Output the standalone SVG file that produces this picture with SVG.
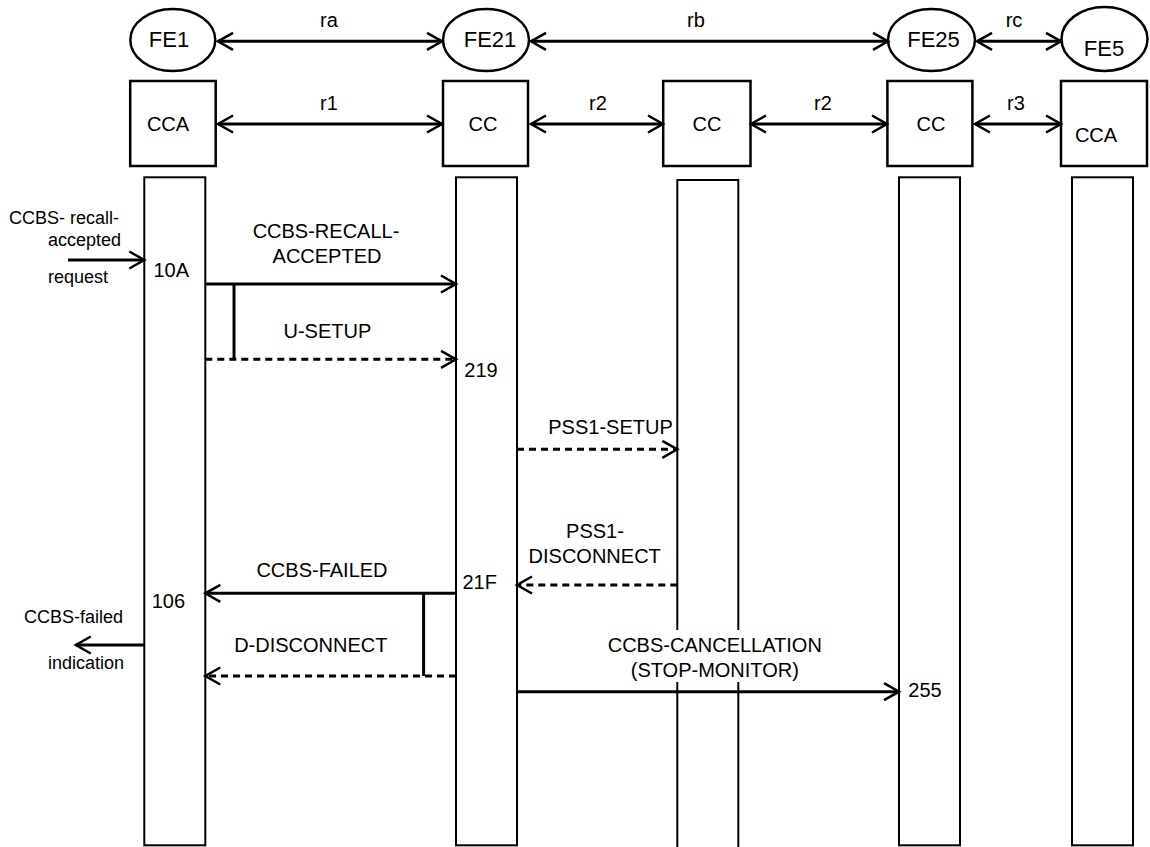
<svg xmlns="http://www.w3.org/2000/svg" width="1150" height="847" viewBox="0 0 1150 847">
<defs>
<style>
text{font-family:"Liberation Sans",Arial,sans-serif;fill:#000}
.fe{font-size:22px;text-anchor:middle}
.bx{font-size:20px;text-anchor:middle}
.rl{font-size:20px;text-anchor:middle}
.ml{font-size:20px;text-anchor:middle}
.nm{font-size:20px}
.sd{font-size:18px}
.node{fill:#fff;stroke:#000;stroke-width:2.5}
.bar{fill:#fff;stroke:#000;stroke-width:2}
.ln{stroke:#000;stroke-width:2;fill:none}
.a2{stroke:#000;stroke-width:3;fill:none;marker-start:url(#ah);marker-end:url(#ah)}
.a1{stroke:#000;stroke-width:3;fill:none;marker-end:url(#ah)}
.d1{stroke:#000;stroke-width:3;fill:none;stroke-dasharray:7 5;marker-end:url(#ah)}
.br{stroke:#000;stroke-width:3;fill:none}
</style>
<marker id="ah" markerUnits="userSpaceOnUse" viewBox="-18 -10 20 20" refX="0" refY="0" markerWidth="20" markerHeight="20" orient="auto-start-reverse" overflow="visible">
<path d="M-15,-8.5 L0,0 L-15,8.5" fill="none" stroke="#000" stroke-width="2.5"/>
</marker>
</defs>
<rect width="1150" height="847" fill="#fff"/>

<g id="fe1"><ellipse class="node" cx="172.8" cy="40" rx="42.5" ry="31"/><text class="fe" x="169" y="47">FE1</text></g>
<g id="fe21"><ellipse class="node" cx="486" cy="40" rx="43" ry="31"/><text class="fe" x="490" y="47">FE21</text></g>
<g id="fe25"><ellipse class="node" cx="931.5" cy="40" rx="43.5" ry="31"/><text class="fe" x="933.5" y="47">FE25</text></g>
<g id="fe5"><ellipse class="node" cx="1104.5" cy="39" rx="43" ry="32"/><text class="fe" x="1104" y="56">FE5</text></g>

<g id="cca1"><rect class="node" x="130.2" y="81" width="85.5" height="85"/><text class="bx" x="168" y="131">CCA</text></g>
<g id="cc21"><rect class="node" x="443" y="81" width="85" height="85"/><text class="bx" x="483" y="131">CC</text></g>
<g id="ccmid"><rect class="node" x="663.2" y="81" width="87.3" height="85"/><text class="bx" x="707" y="131">CC</text></g>
<g id="cc25"><rect class="node" x="887.4" y="81" width="85" height="85"/><text class="bx" x="931" y="131">CC</text></g>
<g id="cca5"><rect class="node" x="1061" y="81" width="86" height="85"/><text class="bx" x="1096" y="142">CCA</text></g>

<g id="bar1"><rect class="bar" x="144.3" y="177.3" width="61" height="668"/></g>
<g id="bar21"><rect class="bar" x="456" y="177.3" width="61" height="668"/></g>
<g id="barmid"><path class="ln" d="M677.3,848 V180 H738.3 V848"/></g>
<g id="bar25"><rect class="bar" x="899" y="177.3" width="61" height="668"/></g>
<g id="bar5"><rect class="bar" x="1072" y="177.3" width="61" height="668"/></g>

<g id="connectors">
<line class="a2" x1="218" y1="41.3" x2="442" y2="41.3"/>
<line class="a2" x1="531" y1="41.3" x2="888" y2="41.3"/>
<line class="a2" x1="977" y1="41.3" x2="1061" y2="41.3"/>
<line class="a2" x1="218" y1="124" x2="442" y2="124"/>
<line class="a2" x1="531" y1="124" x2="663" y2="124"/>
<line class="a2" x1="751" y1="124" x2="887" y2="124"/>
<line class="a2" x1="975" y1="124" x2="1061" y2="124"/>

<line class="a1" x1="68" y1="260" x2="144.3" y2="260"/>
<line class="a1" x1="205.3" y1="284" x2="456" y2="284"/>
<line class="br" x1="234" y1="284" x2="234" y2="359.3"/>
<line class="d1" x1="205.3" y1="359.3" x2="456" y2="359.3"/>
<line class="d1" x1="517" y1="449.3" x2="677.3" y2="449.3"/>
<line class="d1" x1="677.3" y1="585" x2="517" y2="585"/>
<line class="a1" x1="456" y1="593.3" x2="205.3" y2="593.3"/>
<line class="br" x1="423.6" y1="593.3" x2="423.6" y2="676"/>
<line class="d1" x1="456" y1="676" x2="205.3" y2="676"/>
<line class="a1" x1="144.3" y1="645" x2="75.8" y2="645"/>
</g>

<rect x="600" y="630" width="230" height="52" fill="#fff"/>
<g id="cancel-arrow"><line class="a1" x1="517" y1="691.7" x2="899" y2="691.7"/></g>

<g id="labels">
<text class="rl" x="329" y="27">ra</text>
<text class="rl" x="696" y="27">rb</text>
<text class="rl" x="1014" y="27">rc</text>
<text class="rl" x="329" y="110">r1</text>
<text class="rl" x="598" y="110">r2</text>
<text class="rl" x="823" y="110">r2</text>
<text class="rl" x="1016" y="110">r3</text>

<text class="sd" x="9" y="224">CCBS- recall-</text>
<text class="sd" x="48" y="246">accepted</text>
<text class="sd" x="48" y="283">request</text>
<text class="nm" x="153.5" y="277.3">10A</text>
<text class="ml" x="326" y="238.3">CCBS-RECALL-</text>
<text class="ml" x="327" y="263.3">ACCEPTED</text>
<text class="ml" x="327.4" y="338.3">U-SETUP</text>
<text class="nm" x="464.3" y="376.7">219</text>
<text class="ml" x="610.5" y="434">PSS1-SETUP</text>
<text class="ml" x="595" y="538">PSS1-</text>
<text class="ml" x="594.7" y="562.7">DISCONNECT</text>
<text class="nm" x="462.4" y="589">21F</text>
<text class="ml" x="322" y="576.7">CCBS-FAILED</text>
<text class="nm" x="151.7" y="608.3">106</text>
<text class="sd" x="24" y="622.7">CCBS-failed</text>
<text class="sd" x="48" y="669">indication</text>
<text class="ml" x="310.8" y="651.7">D-DISCONNECT</text>
<text class="ml" x="714.8" y="651.7">CCBS-CANCELLATION</text>
<text class="ml" x="714.8" y="676.7">(STOP-MONITOR)</text>
<text class="nm" x="908.3" y="696.7">255</text>
</g>
</svg>
